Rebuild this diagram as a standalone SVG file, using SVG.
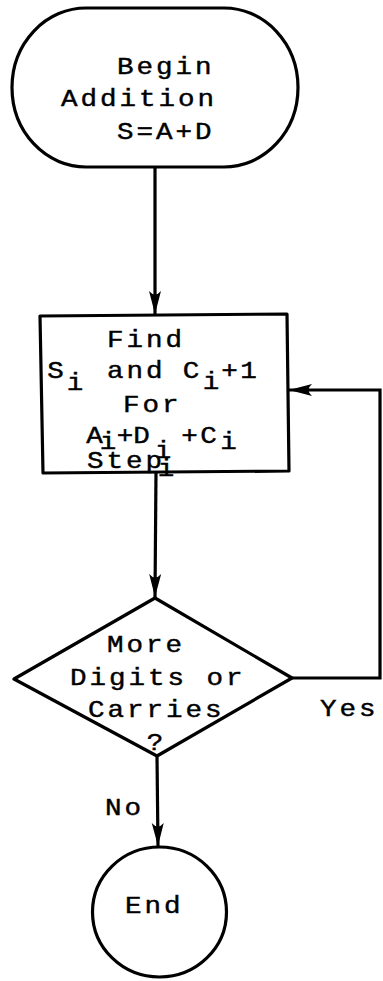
<svg xmlns="http://www.w3.org/2000/svg" width="383" height="981" viewBox="0 0 383 981">
  <style>
    .shape { fill: none; stroke: #000; stroke-width: 3.2; stroke-linejoin: round; }
    .line { fill: none; stroke: #000; stroke-width: 3.2; }
    text { font-family: "Liberation Mono", "Courier New", monospace; font-size: 23px; fill: #000; stroke: #000; stroke-width: 0.4; letter-spacing: 2.45px; }
    .c { text-anchor: middle; letter-spacing: 0; }
  </style>
  <defs>
    <marker id="arrow" markerUnits="userSpaceOnUse" markerWidth="28" markerHeight="16" refX="25" refY="8" orient="auto">
      <path d="M25,8 L2,2 Q9,8 2,14 Z" fill="#000"/>
    </marker>
  </defs>
  <rect x="0" y="0" width="383" height="981" fill="#fff"/>

  <!-- connectors -->
  <g id="connectors">
    <path class="line" d="M155,167 L155,314" marker-end="url(#arrow)"/>
    <path class="line" d="M156,472 L155,597" marker-end="url(#arrow)"/>
    <path class="line" d="M292,678 L380,678 L380,390 L289,390" marker-end="url(#arrow)"/>
    <path class="line" d="M157,756 L158,846" marker-end="url(#arrow)"/>
    <text transform="translate(320,716) scale(1.2,1)">Yes</text>
    <text transform="translate(105,815) scale(1.2,1)">No</text>
  </g>

  <!-- start terminal -->
  <g id="begin">
    <rect class="shape" x="12" y="8" width="286" height="159" rx="74" ry="79.5"/>
    <text transform="translate(117,74) scale(1.2,1)">Begin</text>
    <text transform="translate(61,106) scale(1.2,1)">Addition</text>
    <text transform="translate(117,139) scale(1.2,1)">S=A+D</text>
  </g>

  <!-- process box -->
  <g id="find">
    <polygon class="shape" points="40,316 287,314 289,471 43,473"/>
    <text transform="translate(107,347) scale(1.2,1)">Find</text>
    <text class="c" transform="translate(55.5,378) scale(1.2,1)">S</text>
    <text class="c" transform="translate(75,390) scale(1.2,1)">i</text>
    <text transform="translate(107,378) scale(1.2,1)">and</text>
    <text class="c" transform="translate(191,378) scale(1.2,1)">C</text>
    <text class="c" transform="translate(211,389) scale(1.2,1)">i</text>
    <text class="c" transform="translate(229.5,378) scale(1.2,1)">+</text>
    <text class="c" transform="translate(248.5,378) scale(1.2,1)">1</text>
    <text transform="translate(123,412) scale(1.2,1)">For</text>
    <text class="c" transform="translate(94.5,443) scale(1.2,1)">A</text>
    <text class="c" transform="translate(108,449) scale(1.2,1)">i</text>
    <text class="c" transform="translate(125,443) scale(1.2,1)">+</text>
    <text class="c" transform="translate(141.5,443) scale(1.2,1)">D</text>
    <text class="c" transform="translate(163,458) scale(1.2,1)">i</text>
    <text class="c" transform="translate(189.5,443) scale(1.2,1)">+</text>
    <text class="c" transform="translate(208.5,443) scale(1.2,1)">C</text>
    <text class="c" transform="translate(228.5,449) scale(1.2,1)">i</text>
    <text transform="translate(87,468) scale(1.2,1)">Step</text>
    <text class="c" transform="translate(166,476) scale(1.2,1)">i</text>
  </g>

  <!-- decision -->
  <g id="decision">
    <polygon class="shape" points="155,598 292,678 157,756 14,679"/>
    <text transform="translate(107,652) scale(1.2,1)">More</text>
    <text transform="translate(70,685) scale(1.2,1)">Digits or</text>
    <text transform="translate(88,717) scale(1.2,1)">Carries</text>
    <text class="c" transform="translate(155,750) scale(1.2,1)">?</text>
  </g>

  <!-- end terminal -->
  <g id="end">
    <ellipse class="shape" cx="159.5" cy="912" rx="67" ry="65"/>
    <text transform="translate(125,913) scale(1.2,1)">End</text>
  </g>
</svg>
